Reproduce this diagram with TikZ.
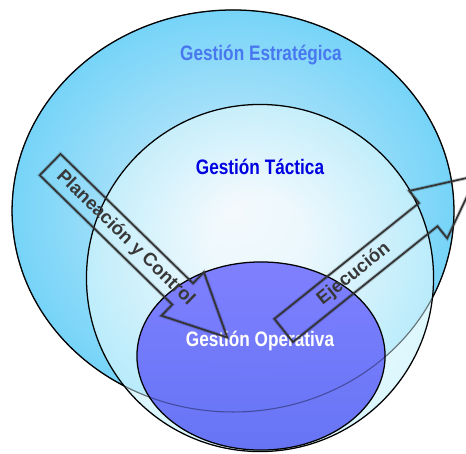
\documentclass[tikz,border=0pt]{standalone}
\usepackage{fontspec}
\setsansfont{Liberation Sans}
\newfontfamily\narrowsf[FakeStretch=0.82]{Liberation Sans}
\usepackage{xcolor}
\usepackage{tikz}
\usetikzlibrary{shapes.geometric,shapes.arrows,calc}
\definecolor{estratedge}{RGB}{118,212,248}
\definecolor{estratcenter}{RGB}{212,236,250}
\definecolor{tacticaedge}{RGB}{192,240,252}
\definecolor{operatop}{RGB}{122,122,255}
\definecolor{operamid}{RGB}{100,114,248}
\definecolor{operabottom}{RGB}{96,110,244}
\definecolor{labelstrat}{RGB}{72,120,240}
\definecolor{labeltact}{RGB}{0,0,225}
\pgfdeclareradialshading{tacticashade}{\pgfpoint{0bp}{6bp}}{color(0bp)=(white); color(7bp)=(white); color(31bp)=(tacticaedge)}
\tikzset{
  levelcircle/.style={ellipse, draw=black, line width=1.2pt, inner sep=0pt},
  levellabel/.style={font=\narrowsf\bfseries\fontsize{19.9}{22}\selectfont},
  outerseam/.style={draw=black, draw opacity=0.35, line width=1pt},
  flowarrow/.style={single arrow, draw=black!80, line width=1.6pt, preaction={draw=black, draw opacity=0.2, line width=3.4pt}, inner xsep=0pt, inner ysep=0.467cm, minimum height=8.25cm, single arrow head extend=0.517cm, single arrow tip angle=52, anchor=tail},
  flowtext/.style={font=\sffamily\bfseries\fontsize{17.6}{20}\selectfont, text=black!78}
}

\begin{document}
\begin{tikzpicture}[x=1cm,y=1cm]
  \useasboundingbox (0,0) rectangle (15.533,15.1);
  \clip (0,0) rectangle (15.533,15.1);

  % the three levels
  \node[levelcircle, minimum width=14.73cm, minimum height=13.4cm, inner color=estratcenter, outer color=estratedge] (estrategica) at (7.767,8.067) {};
  \node[levelcircle, minimum width=11.57cm, minimum height=11.57cm, shading=tacticashade, fill opacity=0.75] (tactica) at (8.667,5.833) {};
  \node[levelcircle, minimum width=8.27cm, minimum height=6.27cm, top color=operatop, middle color=operamid, bottom color=operabottom, fill opacity=0.95] (operativa) at (8.7,3.233) {};
  \draw[outerseam] (estrategica.center) ellipse [x radius=7.365cm, y radius=6.7cm];

  \node[levellabel, text=labelstrat] (lblestrat) at (8.7,13.267) {Gestión Estratégica};
  \node[levellabel, text=labeltact] (lbltact) at (8.667,9.533) {Gestión Táctica};
  \node[levellabel, text=white] (lblopera) at (8.667,3.733) {Gestión Operativa};

  % flows between levels
  \node[flowarrow, rotate=-44.3] (planeacion) at (1.65,9.633) {};
  \node[flowarrow, rotate=38.7] (ejecucion) at (9.433,4.067) {};
  \node[flowtext, rotate=-44.3] (plantext) at ($(planeacion.tail)!0.424!(planeacion.tip)$) {Planeación y Control};
  \node[flowtext, rotate=38.7] (ejectext) at ($(ejecucion.tail)!0.363!(ejecucion.tip)$) {Ejecución};
\end{tikzpicture}
\end{document}
